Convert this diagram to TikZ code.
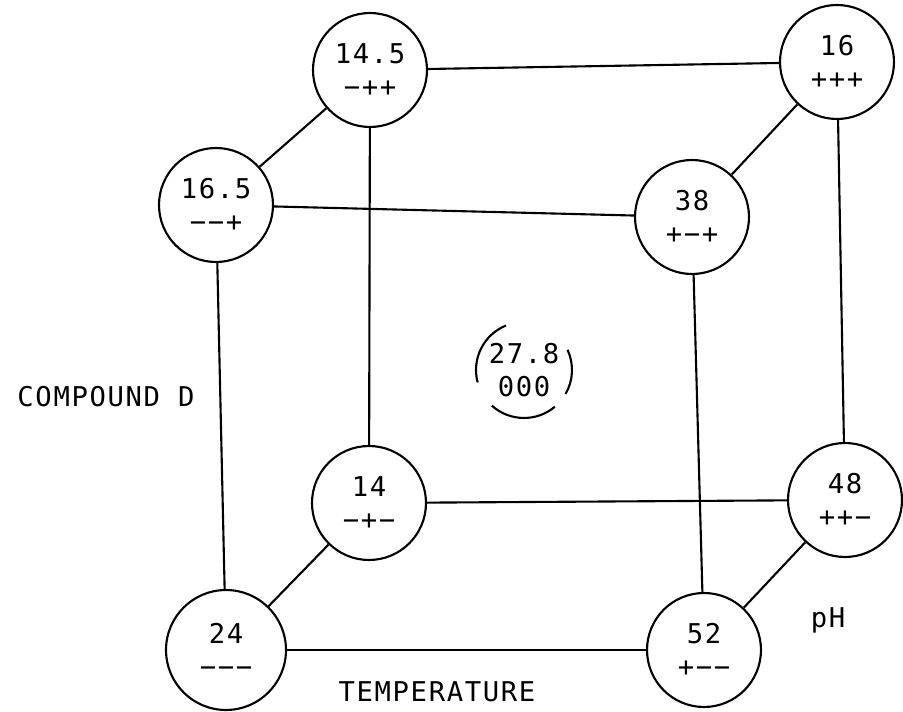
\documentclass[tikz,border=0pt]{standalone}
\usepackage{fontspec}
\newfontfamily\plotfont[LetterSpace=6]{DejaVu Sans Mono}
\usetikzlibrary{positioning}

\begin{document}
\begin{tikzpicture}[x=0.02cm,y=-0.02cm,line width=1.2pt,
  run/.style={circle,draw,minimum size=2.28cm,inner sep=0pt,align=center,
    font=\plotfont\fontsize{15.5}{19}\selectfont},
  factor/.style={font=\plotfont\fontsize{15.5}{18}\selectfont}]

\useasboundingbox (0,0) rectangle (903,712);

\node[run] (p145) at (370,70) {14.5\\−++};
\node[run] (p16) at (837,62) {16\\+++};
\node[run] (p165) at (216,205) {16.5\\−−+};
\node[run] (p38) at (692,217) {38\\+−+};
\node[run] (p14) at (369,503) {14\\−+−};
\node[run] (p48) at (845,500) {48\\++−};
\node[run,minimum size=2.4cm] (p24) at (226,650) {24\\−−−};
\node[run] (p52) at (704,650) {52\\+−−};

\node[run,draw=none] (p278) at (524,370) {27.8\\000};
\draw (p278) ++(112:0.96cm) arc[start angle=112,end angle=195,radius=0.96cm];
\draw (p278) ++(-30:0.96cm) arc[start angle=-30,end angle=25,radius=0.96cm];
\draw (p278) ++(228:0.96cm) arc[start angle=228,end angle=310,radius=0.96cm];

\draw (p145) -- (p16);
\draw (p145) -- (p165);
\draw (p16) -- (p38);
\draw (p165) -- (p38);

\draw (p145) -- (p14);
\draw (p165) -- (p24);
\draw (p38) -- (p52);
\draw (p16) -- (p48);

\draw (p14) -- (p48);
\draw (p14) -- (p24);
\draw (p48) -- (p52);
\draw (p24) -- (p52);

\node[factor] (cpd) at (106,397) {COMPOUND D};
\node[factor] (temp) at (437,692) {TEMPERATURE};
\node[factor] (ph) at (828,620) {pH};

\end{tikzpicture}
\end{document}
